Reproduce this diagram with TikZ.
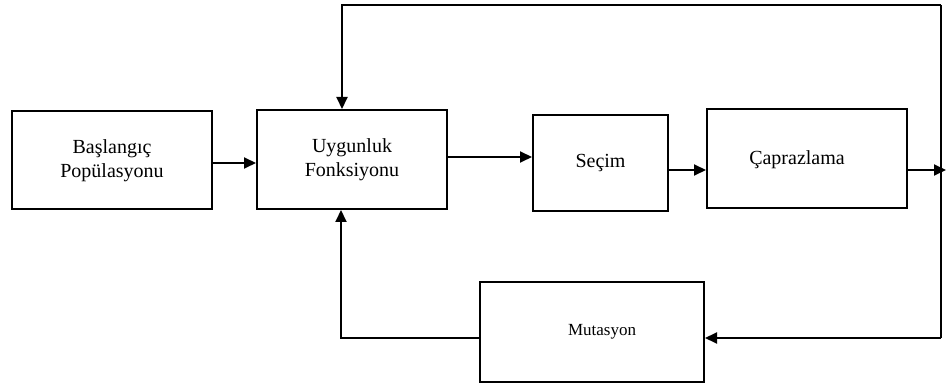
\documentclass[tikz,border=0pt]{standalone}
\usepackage{fontspec}
\setmainfont{Liberation Serif}
\usetikzlibrary{positioning, arrows.meta}

\begin{document}
\begin{tikzpicture}[x=1pt, y=-1pt, >={Triangle[length=12pt, width=11pt]}, line width=2pt,
   blk/.style={rectangle, draw, inner sep=2pt, align=center, font=\fontsize{20}{24}\selectfont},
   txt/.style={inner sep=0pt, font=\fontsize{20}{24}\selectfont},
   lbl/.style={inner sep=0pt, font=\fontsize{17}{20}\selectfont}]
  \useasboundingbox (0,0) rectangle (946,387);
  \node[blk, minimum width=200pt, minimum height=98pt]   (start) at (112,160.5) {Başlangıç\\Popülasyonu};
  \node[blk, minimum width=190pt, minimum height=99pt]   (fit)   at (352,159.5) {Uygunluk\\Fonksiyonu};
  \node[blk, minimum width=135pt, minimum height=96pt]   (sel)   at (600.5,163) {Seçim};
  \node[blk, minimum width=200pt, minimum height=99pt]   (cross) at (807,158.5) {};
  \node[blk, minimum width=224pt, minimum height=100pt]  (mut)   at (592,332)   {};
  \node[txt] (crosstxt) at (797,160) {Çaprazlama};
  \node[lbl] (muttxt)   at (602,332) {Mutasyon};
  \coordinate (rt) at (941,5);
  \coordinate (rb) at (941,338);
  \coordinate (ra) at (946,170);
  \coordinate (lb) at (341,338);
  \draw[->] (start.east |- 0,163) -- (fit.west |- 0,163);
  \draw[->] (fit.east |- 0,157) -- (sel.west |- 0,157);
  \draw[->] (sel.east |- 0,170) -- (cross.west |- 0,170);
  \draw[->] (cross.east |- ra) -- (ra);
  \draw (rt) -- (rb);
  \draw[->] (rt) -| ([xshift=-10pt]fit.north);
  \draw[->] (rb) -- (mut.east |- rb);
  \draw[->] (mut.west |- lb) -- (lb) -- ([xshift=-11pt]fit.south);
\end{tikzpicture}
\end{document}
